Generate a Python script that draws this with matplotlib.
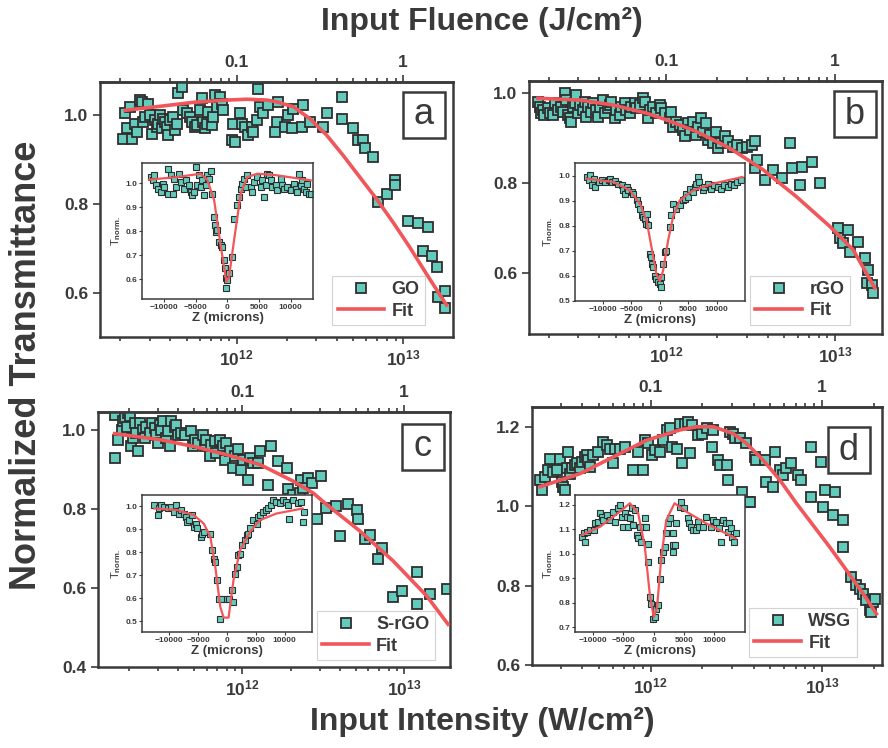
"""
Z-scan / optical limiting figure: normalized transmittance vs input intensity
for GO, rGO, S-rGO and WSG, each with an open-aperture Z-scan inset.
Output: out.png
"""

import matplotlib.pyplot as plt
import numpy as np
from matplotlib.lines import Line2D
from matplotlib.patches import Rectangle

plt.rcParams["font.family"] = ["Liberation Sans", "DejaVu Sans"]
plt.rcParams["font.weight"] = "bold"
plt.rcParams["mathtext.fontset"] = "custom"
plt.rcParams["mathtext.rm"] = "Liberation Sans:bold"
plt.rcParams["mathtext.it"] = "Liberation Sans:bold"
plt.rcParams["mathtext.bf"] = "Liberation Sans:bold"
plt.rcParams["mathtext.default"] = "rm"

FACE = "#62cbbb"
EDGE = "#2e2e2e"
FIT = "#f0565a"
INK = "#3a3a3a"

# ---------------- GO (panel a) ----------------
# intensity in units of 1e12 W/cm^2
go_int = [0.209, 0.214, 0.219, 0.229, 0.234, 0.245, 0.251, 0.263, 0.269, 0.275,
          0.282, 0.295, 0.302, 0.309, 0.324, 0.331, 0.339, 0.347, 0.355, 0.363,
          0.372, 0.380, 0.389, 0.398, 0.417, 0.427, 0.437, 0.447, 0.468, 0.479,
          0.501, 0.525, 0.537, 0.562, 0.575, 0.603, 0.617, 0.631, 0.646, 0.661,
          0.676, 0.708, 0.724, 0.741, 0.759, 0.794, 0.813, 0.832, 0.933, 0.977,
          0.955, 1.047, 1.072, 1.122, 1.175, 1.230, 1.259, 1.318, 1.349, 1.380,
          1.445, 1.549, 1.698, 1.738, 1.778, 1.950, 2.042, 2.138, 2.188, 2.455,
          2.512, 2.754, 3.311, 3.467, 4.266, 4.266, 5.012, 5.370, 5.754, 5.888,
          6.607, 7.079, 7.943, 8.913, 8.913, 10.72, 12.30, 14.13, 13.18, 14.79,
          15.85, 16.22, 17.78, 17.78]
go_t = [0.947, 1.004, 0.970, 1.019, 0.947, 0.981, 0.962, 1.034, 1.030, 0.985,
        0.996, 1.026, 1.000, 0.958, 0.989, 0.974, 0.981, 1.000, 0.970, 0.992,
        0.985, 0.974, 0.955, 0.989, 0.996, 0.966, 0.981, 1.049, 1.064, 1.011,
        1.004, 0.996, 0.985, 0.974, 0.977, 1.011, 1.038, 0.985, 0.970, 0.981,
        1.008, 0.977, 0.996, 1.045, 1.019, 1.042, 1.026, 1.011, 0.943, 0.940,
        0.981, 1.004, 0.981, 0.974, 0.955, 0.974, 0.962, 0.989, 1.060, 1.019,
        1.004, 1.023, 0.962, 0.985, 1.030, 0.974, 1.000, 0.970, 1.015, 0.974,
        1.023, 0.985, 0.974, 1.004, 1.042, 0.992, 0.970, 0.943, 0.943, 0.925,
        0.906, 0.804, 0.823, 0.853, 0.842, 0.762, 0.758, 0.747, 0.694, 0.683,
        0.657, 0.589, 0.604, 0.566]
go_fit_int = [0.214, 0.347, 0.550, 0.871, 1.148, 1.514, 1.738, 2.188, 2.754, 3.467,
              4.365, 5.495, 6.918, 8.710, 10.96, 13.80, 18.20]
go_fit_t = [1.011, 1.020, 1.029, 1.034, 1.036, 1.034, 1.030, 1.019, 0.992, 0.955,
            0.909, 0.860, 0.811, 0.758, 0.702, 0.642, 0.572]
go_z = [-12100, -11840, -11580, -11320, -11050, -10530, -10260, -10000, -9470, -9470,
        -8950, -8680, -8420, -8160, -7630, -7370, -6840, -6580, -6050, -5790,
        -5530, -5260, -5000, -4740, -4470, -4210, -3950, -3680, -3420, -3160,
        -2890, -2630, -2370, -2100, -2000, -1840, -1580, -1320, -1050, -790,
        -530, -420, -260, 0, -160, 260, 790, 1050, 1580, 1840,
        2100, 2370, 2630, 2890, 3160, 3680, 3950, 4210, 4740, 5260,
        5530, 5790, 6050, 6320, 6580, 6840, 7110, 7630, 7890, 8420,
        8680, 8950, 9470, 10000, 10530, 10790, 11050, 11320, 11580, 11840,
        12110, 12370, 12630, 12890, 13160]
go_zt = [1.025, 1.011, 1.032, 0.990, 0.977, 0.963, 0.997, 0.983, 0.956, 1.059,
         1.032, 0.956, 1.018, 0.983, 1.039, 1.004, 0.977, 1.011, 0.990, 0.963,
         0.949, 0.963, 1.066, 0.990, 1.032, 0.983, 1.011, 0.949, 0.990, 1.032,
         1.018, 1.052, 0.956, 0.859, 0.825, 0.797, 0.804, 0.756, 0.742, 0.735,
         0.680, 0.646, 0.604, 0.597, 0.563, 0.625, 0.694, 0.852, 0.908, 0.942,
         0.977, 0.997, 1.018, 0.983, 1.032, 0.983, 0.963, 1.004, 1.025, 0.983,
         1.011, 0.942, 0.990, 1.039, 1.032, 1.011, 0.983, 0.990, 0.970, 1.018,
         0.990, 0.977, 0.983, 0.970, 0.997, 0.977, 0.963, 1.039, 0.990, 1.011,
         0.977, 0.963, 0.997, 0.956, 0.956]
go_zfit = [-12400, -7900, -4200, -3160, -2100, -1050, -160, 260, 1050, 2100,
           3160, 4740, 7900, 13160]
go_zfit_t = [1.014, 1.025, 1.039, 1.011, 0.928, 0.735, 0.590, 0.611, 0.763, 0.956,
             1.025, 1.039, 1.032, 1.011]

# ---------------- rGO (panel b) ----------------
rgo_int = [0.173, 0.177, 0.181, 0.185, 0.189, 0.198, 0.203, 0.212, 0.217, 0.227,
           0.238, 0.243, 0.249, 0.255, 0.261, 0.267, 0.273, 0.279, 0.285, 0.292,
           0.299, 0.306, 0.320, 0.327, 0.335, 0.343, 0.358, 0.367, 0.384, 0.393,
           0.402, 0.421, 0.431, 0.450, 0.461, 0.471, 0.493, 0.505, 0.528, 0.541,
           0.565, 0.578, 0.605, 0.619, 0.648, 0.663, 0.695, 0.727, 0.744, 0.778,
           0.796, 0.833, 0.873, 0.913, 0.934, 0.977, 1.047, 1.071, 1.095, 1.146,
           1.200, 1.256, 1.285, 1.345, 1.376, 1.440, 1.507, 1.542, 1.614, 1.651,
           1.728, 1.768, 1.809, 1.893, 1.981, 2.027, 2.122, 2.220, 2.323, 2.489,
           2.605, 2.790, 2.988, 3.200, 3.349, 3.349, 3.426, 3.838, 4.302, 4.822,
           5.404, 5.529, 6.197, 6.341, 7.266, 8.144, 10.47, 10.71, 11.21, 12.00,
           12.28, 13.76, 15.07, 15.78, 15.42, 16.51, 16.89]
rgo_t = [0.981, 0.970, 0.956, 0.963, 0.952, 0.967, 0.956, 0.952, 0.978, 0.963,
         0.970, 0.959, 1.000, 0.985, 0.952, 0.944, 0.937, 0.970, 0.978, 0.996,
         0.956, 0.974, 0.963, 0.981, 0.948, 0.970, 0.959, 0.978, 0.963, 0.948,
         0.970, 0.985, 0.956, 0.967, 0.974, 0.981, 0.944, 0.963, 0.952, 0.970,
         0.978, 0.963, 0.956, 0.970, 0.978, 0.967, 0.974, 0.989, 0.981, 0.944,
         0.963, 0.970, 0.956, 0.974, 0.967, 0.956, 0.944, 0.959, 0.926, 0.937,
         0.930, 0.919, 0.904, 0.933, 0.919, 0.937, 0.907, 0.926, 0.944, 0.915,
         0.933, 0.896, 0.907, 0.889, 0.915, 0.878, 0.889, 0.904, 0.893, 0.881,
         0.885, 0.878, 0.881, 0.885, 0.893, 0.833, 0.852, 0.807, 0.830, 0.811,
         0.889, 0.833, 0.796, 0.837, 0.848, 0.800, 0.700, 0.678, 0.667, 0.696,
         0.648, 0.670, 0.633, 0.607, 0.578, 0.574, 0.556]
rgo_fit_int = [0.173, 0.306, 0.482, 0.760, 1.000, 1.507, 2.378, 3.750, 5.915, 9.330,
               12.83, 17.24]
rgo_fit_t = [0.989, 0.985, 0.974, 0.956, 0.941, 0.915, 0.878, 0.830, 0.770, 0.704,
             0.652, 0.567]
rgo_z = [-12800, -12490, -12200, -11910, -11620, -11330, -10750, -10170, -9590, -9010,
         -8720, -8420, -7840, -7260, -6680, -6390, -6100, -5810, -5520, -4940,
         -4650, -4070, -3780, -3490, -3200, -2900, -2610, -2500, -2320, -2030,
         -1740, -1630, -1450, -1160, -870, -580, -290, 0, 170, 290,
         580, 870, 1160, 1740, 2030, 2320, 2900, 3490, 4070, 4360,
         4650, 4940, 5230, 5810, 6100, 6390, 6680, 6970, 7550, 7840,
         8420, 9010, 9590, 10170, 10750, 11330, 11910, 12490, 13070, 13650,
         14230]
rgo_zt = [0.996, 0.983, 1.003, 0.962, 0.989, 0.956, 0.976, 0.983, 0.976, 0.985,
          0.989, 0.976, 0.980, 0.969, 0.962, 0.942, 0.929, 0.956, 0.942, 0.936,
          0.929, 0.902, 0.889, 0.869, 0.842, 0.835, 0.828, 0.808, 0.849, 0.802,
          0.688, 0.674, 0.647, 0.634, 0.601, 0.587, 0.574, 0.567, 0.554, 0.594,
          0.647, 0.694, 0.701, 0.795, 0.842, 0.889, 0.869, 0.882, 0.902, 0.909,
          0.929, 0.916, 0.949, 0.936, 0.956, 0.969, 0.996, 0.976, 0.942, 0.956,
          0.969, 0.949, 0.962, 0.956, 0.949, 0.962, 0.956, 0.969, 0.962, 0.976,
          0.983]
rgo_zfit = [-12800, -8130, -5230, -3490, -2320, -1450, -580, 0, 580, 1450,
            2320, 3490, 5810, 9300, 14520]
rgo_zfit_t = [0.989, 0.976, 0.942, 0.889, 0.822, 0.714, 0.607, 0.580, 0.621, 0.741,
              0.835, 0.902, 0.942, 0.969, 0.996]

# ---------------- S-rGO (panel c) ----------------
srgo_int = [0.162, 0.162, 0.170, 0.179, 0.183, 0.187, 0.192, 0.196, 0.201, 0.206,
            0.211, 0.216, 0.221, 0.226, 0.232, 0.243, 0.249, 0.255, 0.267, 0.274,
            0.287, 0.294, 0.301, 0.308, 0.315, 0.323, 0.339, 0.347, 0.355, 0.364,
            0.381, 0.391, 0.400, 0.419, 0.440, 0.484, 0.495, 0.507, 0.532, 0.571,
            0.585, 0.599, 0.628, 0.643, 0.674, 0.690, 0.724, 0.759, 0.778, 0.796,
            0.835, 0.875, 0.897, 0.940, 0.986, 1.010, 1.084, 1.110, 1.164, 1.250,
            1.280, 1.442, 1.511, 1.662, 1.872, 1.916, 2.056, 2.260, 2.317, 2.372,
            2.548, 2.673, 2.870, 3.080, 3.308, 3.814, 4.001, 4.504, 5.072, 5.193,
            5.710, 6.132, 6.906, 7.244, 8.551, 9.626, 11.92, 11.92, 14.41, 18.27]
srgo_t = [0.929, 1.038, 0.975, 1.000, 1.021, 1.029, 1.008, 1.042, 1.034, 0.958,
          0.979, 1.017, 0.992, 0.945, 1.017, 1.000, 0.979, 1.008, 0.992, 1.017,
          1.004, 0.987, 0.966, 1.013, 1.000, 1.021, 0.979, 0.996, 0.958, 1.021,
          1.008, 1.013, 0.987, 0.992, 0.987, 0.996, 0.958, 0.975, 0.966, 0.987,
          0.958, 0.975, 0.933, 0.962, 0.971, 0.941, 0.975, 0.958, 0.924, 0.966,
          0.945, 0.903, 0.933, 0.950, 0.899, 0.924, 0.874, 0.929, 0.916, 0.916,
          0.945, 0.861, 0.958, 0.920, 0.903, 0.849, 0.836, 0.840, 0.874, 0.853,
          0.878, 0.866, 0.773, 0.882, 0.803, 0.807, 0.731, 0.811, 0.798, 0.773,
          0.723, 0.735, 0.672, 0.702, 0.576, 0.592, 0.639, 0.559, 0.584, 0.597]
srgo_fit_int = [0.162, 0.308, 0.495, 0.796, 1.280, 2.056, 2.735, 3.308, 5.317, 8.551,
                13.75, 18.68]
srgo_fit_t = [0.990, 0.975, 0.958, 0.937, 0.912, 0.870, 0.840, 0.811, 0.744, 0.668,
              0.580, 0.508]
srgo_z = [-12560, -11990, -11710, -11420, -10850, -10280, -9710, -9140, -8850, -8280,
          -7990, -7420, -7140, -6850, -6570, -6000, -5710, -5420, -5140, -4570,
          -4280, -4000, -2860, -2570, -2280, -2000, -1710, -1430, -860, -1140,
          0, 290, 860, 1140, 1430, 1710, 2000, 2280, 2570, 3140,
          3430, 3710, 4000, 4570, 5140, 5420, 5710, 6280, 6850, 7140,
          7710, 7990, 8570, 9140, 9710, 10280, 10560, 10850, 11420, 12280,
          12850, 13130, 13420]
srgo_zt = [1.004, 0.961, 0.990, 1.004, 0.997, 0.990, 0.997, 0.975, 1.004, 0.968,
           0.983, 0.968, 0.953, 0.932, 0.939, 0.961, 0.910, 0.924, 0.903, 0.866,
           0.881, 0.888, 0.881, 0.808, 0.772, 0.757, 0.677, 0.597, 0.597, 0.510,
           0.597, 0.597, 0.634, 0.583, 0.706, 0.735, 0.786, 0.794, 0.830, 0.852,
           0.874, 0.881, 0.903, 0.939, 0.924, 0.953, 0.961, 0.975, 0.983, 0.990,
           1.004, 1.026, 1.019, 1.012, 1.026, 1.019, 1.004, 0.946, 1.026, 1.012,
           1.019, 0.932, 0.975]
srgo_zfit = [-12560, -8570, -5710, -4000, -2860, -2000, -1140, -570, 290, 1140,
             2280, 4000, 5710, 8570, 13130]
srgo_zfit_t = [0.990, 0.983, 0.961, 0.924, 0.866, 0.735, 0.561, 0.515, 0.515, 0.677,
               0.808, 0.888, 0.939, 0.968, 0.990]

# ---------------- WSG (panel d) ----------------
wsg_int = [0.227, 0.232, 0.242, 0.253, 0.259, 0.271, 0.283, 0.296, 0.303, 0.310,
           0.317, 0.324, 0.331, 0.339, 0.347, 0.362, 0.371, 0.388, 0.396, 0.414,
           0.424, 0.433, 0.443, 0.463, 0.496, 0.530, 0.554, 0.579, 0.606, 0.620,
           0.663, 0.708, 0.792, 0.848, 0.906, 0.927, 0.969, 1.014, 1.060, 1.133,
           1.185, 1.239, 1.296, 1.325, 1.417, 1.482, 1.516, 1.585, 1.657, 1.695,
           1.733, 1.895, 1.982, 2.120, 2.266, 2.318, 2.478, 2.535, 2.772, 2.834,
           2.898, 3.031, 3.099, 3.315, 3.390, 3.624, 3.706, 3.789, 4.052, 4.143,
           4.633, 4.737, 5.184, 5.301, 5.667, 5.928, 6.198, 6.630, 7.250, 7.580,
           8.668, 8.668, 9.911, 10.13, 10.37, 11.59, 11.85, 13.25, 13.25, 14.82,
           15.85, 16.57, 17.33, 18.13, 18.95, 19.38, 19.82, 20.27]
wsg_t = [1.066, 1.040, 1.074, 1.091, 1.120, 1.087, 1.091, 1.120, 1.061, 1.049,
         1.040, 1.095, 1.137, 1.082, 1.095, 1.103, 1.108, 1.095, 1.112, 1.124,
         1.129, 1.116, 1.099, 1.129, 1.137, 1.162, 1.154, 1.145, 1.108, 1.145,
         1.145, 1.150, 1.091, 1.137, 1.091, 1.166, 1.158, 1.129, 1.141, 1.137,
         1.166, 1.192, 1.196, 1.150, 1.145, 1.208, 1.108, 1.208, 1.213, 1.133,
         1.204, 1.179, 1.183, 1.196, 1.150, 1.192, 1.116, 1.103, 1.103, 1.066,
         1.187, 1.183, 1.171, 1.171, 1.036, 1.158, 1.011, 1.011, 1.124, 1.116,
         1.116, 1.061, 1.049, 1.137, 1.091, 1.078, 1.095, 1.108, 1.078, 1.066,
         1.150, 1.024, 1.112, 0.998, 1.040, 0.977, 1.036, 0.965, 0.897, 0.822,
         0.801, 0.792, 0.780, 0.763, 0.738, 0.734, 0.759, 0.767]
wsg_fit_int = [0.227, 0.388, 0.606, 0.948, 1.482, 1.853, 2.318, 3.031, 3.624, 4.532,
               5.667, 7.087, 8.862, 11.08, 13.86, 17.33, 20.74]
wsg_fit_t = [1.049, 1.082, 1.124, 1.166, 1.192, 1.200, 1.200, 1.183, 1.158, 1.116,
             1.066, 1.007, 0.952, 0.897, 0.839, 0.780, 0.729]
wsg_z = [-11850, -11580, -11300, -11030, -10480, -9940, -9660, -9120, -8850, -8570,
         -8300, -7750, -7210, -6660, -6390, -5840, -5570, -5300, -5020, -4750,
         -4480, -4200, -3930, -3660, -3390, -3110, -2840, -2570, -2290, -2020,
         -1750, -1470, -1200, -930, -930, -660, -380, -110, 160, 440,
         710, 980, 1260, 1530, 1800, 2070, 2350, 2620, 3170, 3170,
         3170, 3440, 3710, 4260, 4530, 5080, 5620, 5900, 6170, 6440,
         6990, 7260, 7530, 8080, 8630, 9450, 9720, 10260, 10810, 11080,
         11360, 11900, 12180, 12450, 12720, 13000, 13270, 13540]
wsg_zt = [1.070, 1.084, 1.049, 1.090, 1.097, 1.097, 1.125, 1.132, 1.166, 1.152,
          1.138, 1.159, 1.138, 1.173, 1.132, 1.186, 1.200, 1.152, 1.111, 1.166,
          1.152, 1.111, 1.145, 1.186, 1.118, 1.179, 1.077, 1.063, 1.111, 1.049,
          1.111, 1.145, 1.111, 1.042, 0.967, 0.823, 0.796, 0.734, 0.741, 0.775,
          0.789, 0.899, 0.974, 1.008, 1.029, 1.084, 1.125, 1.145, 1.084, 1.036,
          1.008, 1.036, 1.125, 1.193, 1.214, 1.186, 1.145, 1.125, 1.111, 1.097,
          1.097, 1.132, 1.111, 1.111, 1.152, 1.111, 1.138, 1.132, 1.104, 1.049,
          1.138, 1.125, 1.090, 1.125, 1.104, 1.070, 1.049, 1.084]
wsg_zfit = [-11850, -8850, -5570, -3930, -2570, -1470, -660, 0, 550, 1260,
            2070, 3440, 5350, 8630, 13540]
wsg_zfit_t = [1.077, 1.111, 1.173, 1.207, 1.166, 1.029, 0.837, 0.741, 0.782, 0.988,
              1.138, 1.207, 1.173, 1.125, 1.063]


def draw_panel(fig, p):
    ax = fig.add_axes(p["rect"])
    ax.set_xscale("log")
    ax.plot(np.array(p["int"]) * 1e12, p["t"], "s", ms=7.5, mfc=FACE, mec=EDGE,
            mew=1.3, zorder=2)
    ax.plot(np.array(p["fit_int"]) * 1e12, p["fit_t"], "-", color=FIT, lw=2.6,
            zorder=3)
    ax.set_xlim(p["xlim"][0] * 1e12, p["xlim"][1] * 1e12)
    ax.set_ylim(*p["ylim"])
    ax.set_yticks(p["yticks"])
    ax.set_yticklabels([f"{v:.1f}" for v in p["yticks"]])
    ax.set_xticks([1e12, 1e13])
    ax.set_xticklabels(["10$^{12}$", "10$^{13}$"])
    ax.tick_params(which="both", direction="out", color=INK, width=1.2,
                   labelsize=12.5, labelcolor=INK)
    ax.tick_params(which="major", length=5)
    ax.tick_params(which="minor", length=3)
    for s in ax.spines.values():
        s.set_linewidth(1.8)
        s.set_color(INK)

    top = ax.secondary_xaxis("top", functions=(lambda x: x * 1e-13,
                                               lambda x: x * 1e13))
    top.set_xticks([0.1, 1])
    top.set_xticklabels(["0.1", "1"])
    top.tick_params(which="both", direction="out", color=INK, width=1.2,
                    labelsize=12.5, labelcolor=INK)
    top.tick_params(which="major", length=5)
    top.tick_params(which="minor", length=3)
    top.spines["top"].set_linewidth(1.8)
    top.spines["top"].set_color(INK)

    # panel letter in a square box
    bx, by = p["letter_xy"]
    w, h = 42 / (888 * p["rect"][2]), 46 / (748 * p["rect"][3])
    ax.add_patch(Rectangle((bx - w / 2, by - h / 2), w, h, transform=ax.transAxes,
                           fill=False, ec=INK, lw=1.8, zorder=5))
    ax.text(bx, by, p["letter"], transform=ax.transAxes, ha="center",
            va="center", fontsize=26, fontweight="normal", color=INK, zorder=6)

    handles = [Line2D([], [], ls="none", marker="s", ms=7.5, mfc=FACE, mec=EDGE,
                      mew=1.3),
               Line2D([], [], color=FIT, lw=2.6)]
    leg = ax.legend(handles, [p["name"], "Fit"], loc="lower right",
                    bbox_to_anchor=p["leg_anchor"], borderaxespad=0,
                    fontsize=13, frameon=True, fancybox=False,
                    handlelength=2.6, handletextpad=0.4, borderpad=0.3,
                    labelspacing=0.25)
    leg.get_frame().set_edgecolor("#c8c8c8")
    leg.get_frame().set_linewidth(0.8)
    for t in leg.get_texts():
        t.set_color(INK)

    # inset: open-aperture Z-scan
    ins = fig.add_axes(p["inset_rect"])
    ins.set_facecolor("white")
    ins.plot(p["z"], p["zt"], "s", ms=3.8, mfc=FACE, mec=EDGE, mew=0.8)
    ins.plot(p["zfit"], p["zfit_t"], "-", color=FIT, lw=1.6)
    ins.set_xlim(*p["zlim"])
    ins.set_ylim(*p["ztlim"])
    ins.set_xticks([-10000, -5000, 0, 5000, 10000])
    ins.set_yticks(p["zticks"])
    ins.set_yticklabels([f"{v:.1f}" for v in p["zticks"]])
    ins.tick_params(direction="out", length=2, width=0.8, color=INK,
                    labelsize=6, labelcolor=INK, pad=1.5)
    ins.set_xlabel("Z (microns)", fontsize=9.5, fontweight="bold", color=INK,
                   labelpad=1)
    ins.set_ylabel("T$_{norm.}$", fontsize=8, color=INK, labelpad=2)
    for s in ins.spines.values():
        s.set_linewidth(1.1)
        s.set_color(INK)
    return ax


def main():
    fig = plt.figure(figsize=(8.88, 7.48), dpi=100)

    panels = [
        dict(name="GO", letter="a", int=go_int, t=go_t, fit_int=go_fit_int,
             fit_t=go_fit_t, z=go_z, zt=go_zt, zfit=go_zfit, zfit_t=go_zfit_t,
             rect=[0.1126, 0.5495, 0.3975, 0.341], xlim=(0.151, 19.9),
             ylim=(0.5, 1.075), yticks=[0.6, 0.8, 1.0],
             letter_xy=(0.918, 0.871), leg_anchor=(0.921, 0.047),
             inset_rect=[0.160, 0.600, 0.193, 0.182], zlim=(-13500, 13600),
             ztlim=(0.517, 1.083), zticks=[0.6, 0.7, 0.8, 0.9, 1.0]),
        dict(name="rGO", letter="b", int=rgo_int, t=rgo_t, fit_int=rgo_fit_int,
             fit_t=rgo_fit_t, z=rgo_z, zt=rgo_zt, zfit=rgo_zfit,
             zfit_t=rgo_zfit_t,
             rect=[0.5957, 0.5535, 0.3975, 0.338], xlim=(0.153, 19.0),
             ylim=(0.465, 1.027), yticks=[0.6, 0.8, 1.0],
             letter_xy=(0.924, 0.870), leg_anchor=(0.909, 0.036),
             inset_rect=[0.6475, 0.5976, 0.191, 0.1845], zlim=(-14900, 14900),
             ztlim=(0.5, 1.052), zticks=[0.5, 0.6, 0.7, 0.8, 0.9, 1.0]),
        dict(name="S-rGO", letter="c", int=srgo_int, t=srgo_t,
             fit_int=srgo_fit_int, fit_t=srgo_fit_t, z=srgo_z, zt=srgo_zt,
             zfit=srgo_zfit, zfit_t=srgo_zfit_t,
             rect=[0.1104, 0.1083, 0.3964, 0.341], xlim=(0.128, 19.2),
             ylim=(0.4, 1.045), yticks=[0.4, 0.6, 0.8, 1.0],
             letter_xy=(0.923, 0.863), leg_anchor=(0.957, 0.027),
             inset_rect=[0.160, 0.155, 0.191, 0.183], zlim=(-14700, 14700),
             ztlim=(0.452, 1.048), zticks=[0.5, 0.6, 0.7, 0.8, 0.9, 1.0]),
        dict(name="WSG", letter="d", int=wsg_int, t=wsg_t, fit_int=wsg_fit_int,
             fit_t=wsg_fit_t, z=wsg_z, zt=wsg_zt, zfit=wsg_zfit,
             zfit_t=wsg_zfit_t,
             rect=[0.599, 0.111, 0.394, 0.345], xlim=(0.203, 22.3),
             ylim=(0.6, 1.25), yticks=[0.6, 0.8, 1.0, 1.2],
             letter_xy=(0.906, 0.833), leg_anchor=(0.929, 0.031),
             inset_rect=[0.6475, 0.155, 0.191, 0.183], zlim=(-13000, 15000),
             ztlim=(0.68, 1.24), zticks=[0.7, 0.8, 0.9, 1.0, 1.1, 1.2]),
    ]
    for p in panels:
        draw_panel(fig, p)

    big = dict(color=INK, fontweight="bold",
               family=["Liberation Sans Narrow", "Liberation Sans"])
    fig.text(0.543, 0.970, "Input Fluence (J/cm²)", ha="center", va="center",
             fontsize=23, **big)
    fig.text(0.543, 0.035, "Input Intensity (W/cm²)", ha="center",
             va="center", fontsize=23, **big)
    fig.text(0.030, 0.512, "Normalized Transmittance", ha="center",
             va="center", rotation=90, fontsize=26, **big)

    fig.savefig("out.png", dpi=100)
    plt.close(fig)


if __name__ == "__main__":
    main()
